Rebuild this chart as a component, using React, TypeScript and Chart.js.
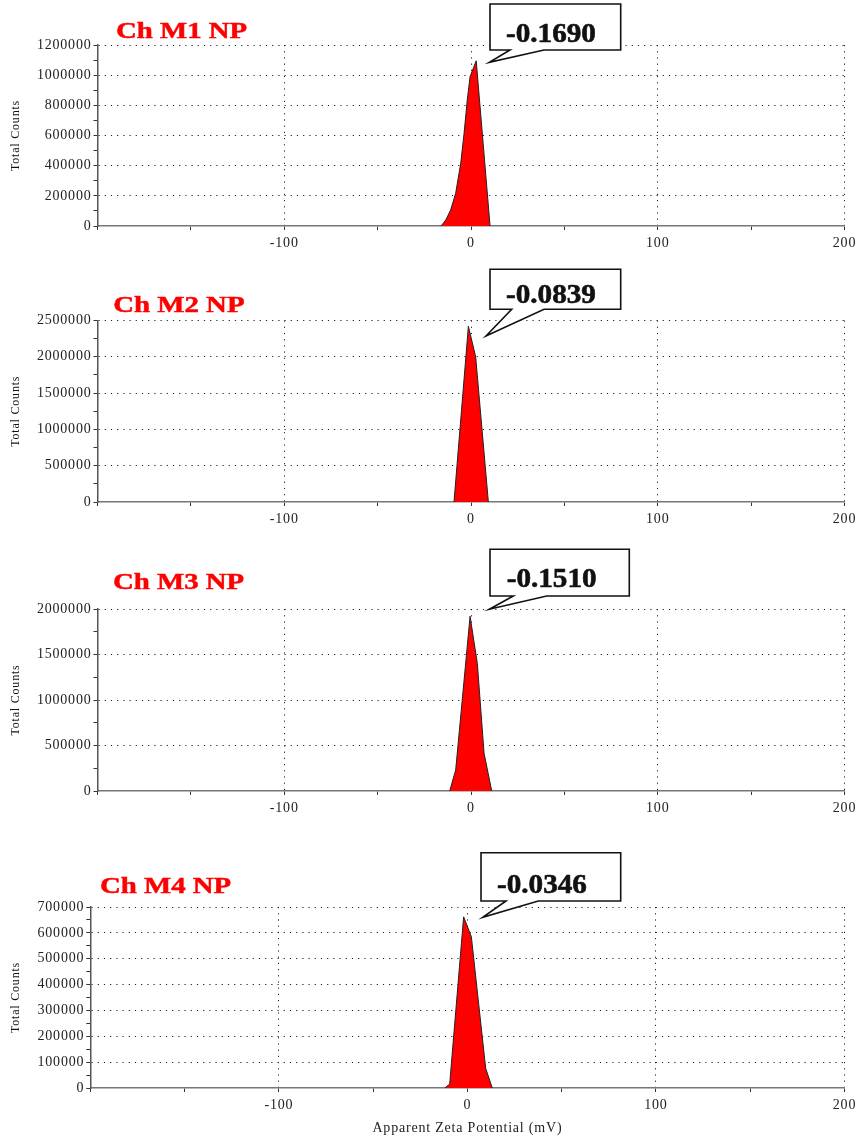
import React, { useEffect, useRef } from "react";
import { Chart, registerables } from "chart.js";

Chart.register(...registerables);

// ---------- data ----------
const panelTitles = ["Ch M1 NP", "Ch M2 NP", "Ch M3 NP", "Ch M4 NP"];
const peakLabels = ["-0.1690", "-0.0839", "-0.1510", "-0.0346"];

const xMin = -200;
const xMax = 200;
const xMajor = 100;
const xMinor = 50;
const xAxisTitle = "Apparent Zeta Potential (mV)";
const yAxisTitle = "Total Counts";

const yMaxes = [1200000, 2500000, 2000000, 700000];
const yMajors = [200000, 500000, 500000, 100000];

// Apparent zeta potential (mV) vs total counts for each sample
const m1Zeta = [-16, -13.5, -10.9, -8.2, -5.5, -3.7, -2.0, -0.5, 2.8, 10.2];
const m1Counts = [0, 40000, 106000, 217000, 416000, 615000, 835000, 990000, 1095000, 0];

const m2Zeta = [-9.1, -1.4, 2.5, 9.3];
const m2Counts = [0, 2420000, 2000000, 0];

const m3Zeta = [-11.4, -8.2, -0.5, 3.4, 7.0, 11.1];
const m3Counts = [0, 231000, 1920000, 1400000, 414000, 0];

const m4Zeta = [-12.0, -9.4, -2.0, 2.1, 9.7, 13.2];
const m4Counts = [0, 15000, 662000, 585000, 76000, 0];

const seriesZeta = [m1Zeta, m2Zeta, m3Zeta, m4Zeta];
const seriesCounts = [m1Counts, m2Counts, m3Counts, m4Counts];

// ---------- layout (page pixel coordinates) ----------
type Layout = {
  top: number;
  height: number;
  plotTop: number;
  plotBottom: number;
  plotLeft: number;
  plotRight: number;
  titleX: number;
  titleY: number;
  box: { l: number; t: number; r: number; b: number; p1: number; p2: number; tipX: number; tipY: number; textX: number; textY: number };
  showXTitle: boolean;
};

const layouts: Layout[] = [
  {
    top: 0, height: 252, plotTop: 45, plotBottom: 226, plotLeft: 97.5, plotRight: 846.7,
    titleX: 116, titleY: 38,
    box: { l: 490, t: 4, r: 620.7, b: 50, p1: 510, p2: 544, tipX: 489.3, tipY: 62.3, textX: 506, textY: 42 },
    showXTitle: false,
  },
  {
    top: 258, height: 272, plotTop: 320.5, plotBottom: 502, plotLeft: 97.5, plotRight: 846.7,
    titleX: 113.3, titleY: 312,
    box: { l: 490, t: 269.3, r: 620.7, b: 309.3, p1: 511.7, p2: 544, tipX: 486, tipY: 336, textX: 506, textY: 303 },
    showXTitle: false,
  },
  {
    top: 540, height: 277, plotTop: 609, plotBottom: 791, plotLeft: 97.5, plotRight: 846.7,
    titleX: 113, titleY: 589,
    box: { l: 490, t: 549.3, r: 629.3, b: 596, p1: 513.3, p2: 546.7, tipX: 489.3, tipY: 609.3, textX: 506.7, textY: 587 },
    showXTitle: false,
  },
  {
    top: 830, height: 311, plotTop: 907, plotBottom: 1088, plotLeft: 90.3, plotRight: 845,
    titleX: 100, titleY: 893.3,
    box: { l: 481, t: 852.7, r: 620.7, b: 901, p1: 506, p2: 538.3, tipX: 482.7, tipY: 917.3, textX: 497, textY: 893 },
    showXTitle: true,
  },
];

const serif = "'Liberation Serif', 'Times New Roman', serif";
const tickFont = { family: serif, size: 14 };
const tickColor = "#222";
const gridColor = "#222";
const axisColor = "#777";

function Panel({ index }: { index: number }) {
  const ref = useRef<HTMLCanvasElement | null>(null);
  const L = layouts[index];

  useEffect(() => {
    const canvas = ref.current;
    if (!canvas) return;
    const yMax = yMaxes[index];
    const yMajor = yMajors[index];
    const points = seriesZeta[index].map((x, k) => ({ x, y: seriesCounts[index][k] }));
    const xAxisHeight = L.height - (L.plotBottom - L.top);

    const decorPlugin = {
      id: "decor" + index,
      beforeDraw(chart: any) {
        (chart.ctx as any).letterSpacing = "0.8px";
      },
      afterDraw(chart: any) {
        const ctx = chart.ctx as CanvasRenderingContext2D;
        const off = L.top;
        ctx.save();
        (ctx as any).letterSpacing = "0px";
        // panel title
        ctx.save();
        ctx.translate(L.titleX, L.titleY - off);
        ctx.scale(1.2, 1);
        ctx.font = "bold 24px " + serif;
        ctx.fillStyle = "#ff0000";
        ctx.strokeStyle = "#ff0000";
        ctx.lineWidth = 0.5;
        ctx.textAlign = "left";
        ctx.textBaseline = "alphabetic";
        ctx.fillText(panelTitles[index], 0, 0);
        ctx.strokeText(panelTitles[index], 0, 0);
        ctx.restore();

        // callout
        const b = L.box;
        ctx.beginPath();
        ctx.moveTo(b.l, b.t - off);
        ctx.lineTo(b.r, b.t - off);
        ctx.lineTo(b.r, b.b - off);
        ctx.lineTo(b.p2, b.b - off);
        ctx.lineTo(b.tipX, b.tipY - off);
        ctx.lineTo(b.p1, b.b - off);
        ctx.lineTo(b.l, b.b - off);
        ctx.closePath();
        ctx.fillStyle = "#ffffff";
        ctx.fill();
        ctx.lineWidth = 1.6;
        ctx.strokeStyle = "#111";
        ctx.lineJoin = "miter";
        ctx.stroke();

        ctx.save();
        ctx.translate(b.textX, b.textY - off);
        ctx.scale(1.08, 1);
        ctx.font = "bold 27px " + serif;
        ctx.fillStyle = "#111";
        ctx.strokeStyle = "#111";
        ctx.lineWidth = 0.6;
        ctx.textAlign = "left";
        ctx.textBaseline = "alphabetic";
        ctx.fillText(peakLabels[index], 0, 0);
        ctx.strokeText(peakLabels[index], 0, 0);
        ctx.restore();
        ctx.restore();
      },
    };

    const chart = new Chart(canvas, {
      type: "line",
      data: {
        datasets: [
          {
            data: points,
            showLine: true,
            fill: "origin",
            backgroundColor: "#ff0000",
            borderColor: "#222",
            borderWidth: 1,
            pointRadius: 0,
            tension: 0,
          },
        ],
      },
      options: {
        responsive: false,
        animation: false,
        devicePixelRatio: 1,
        layout: {
          padding: { top: L.plotTop - L.top, right: 860 - L.plotRight, left: 0, bottom: 0 },
        },
        plugins: {
          legend: { display: false },
          tooltip: { enabled: false },
        },
        scales: {
          x: {
            type: "linear",
            min: xMin,
            max: xMax,
            afterFit: (scale: any) => {
              scale.height = xAxisHeight;
            },
            ticks: {
              stepSize: xMinor,
              autoSkip: false,
              maxRotation: 0,
              padding: 5,
              color: tickColor,
              font: tickFont,
              callback: (v: any) => (Number(v) % xMajor === 0 && Number(v) !== xMin ? String(v) : ""),
            },
            grid: {
              color: (c: any) =>
                c.tick && c.tick.value % xMajor === 0 && c.tick.value !== xMin ? gridColor : "transparent",
              lineWidth: 1,
              tickLength: 4,
              tickColor: "#333",
              tickBorderDash: [],
              drawTicks: true,
            },
            border: { display: true, color: axisColor, width: 1.5, dash: [1.2, 5] },
            title: {
              display: L.showXTitle,
              text: xAxisTitle,
              color: tickColor,
              font: { family: serif, size: 14 },
              padding: { top: 0, bottom: 4 },
            },
          },
          y: {
            type: "linear",
            min: 0,
            max: yMax,
            afterFit: (scale: any) => {
              scale.width = L.plotLeft;
            },
            ticks: {
              stepSize: yMajor / 2,
              autoSkip: false,
              padding: 2,
              color: tickColor,
              font: tickFont,
              callback: (v: any) => (Number(v) % yMajor === 0 ? String(v) : ""),
            },
            grid: {
              color: (c: any) =>
                c.tick && c.tick.value % yMajor === 0 && c.tick.value !== 0 ? gridColor : "transparent",
              lineWidth: 1,
              tickLength: 4,
              tickColor: "#333",
              tickBorderDash: [],
              drawTicks: true,
            },
            border: { display: true, color: "#555", width: 1.5, dash: [1.2, 5] },
            title: {
              display: true,
              text: yAxisTitle,
              color: "#111",
              font: { family: serif, size: 12 },
              padding: { top: 9, bottom: 0 },
            },
          },
        },
      },
      plugins: [decorPlugin],
    } as any);

    return () => chart.destroy();
  }, []);

  return (
    <canvas
      ref={ref}
      width={860}
      height={L.height}
      style={{ position: "absolute", left: 0, top: L.top, width: 860, height: L.height, display: "block" }}
    />
  );
}

export default function App() {
  return (
    <div style={{ position: "absolute", left: 0, top: 0, width: 860, height: 1141, background: "#fff" }}>
      {layouts.map((_, i) => (
        <Panel key={i} index={i} />
      ))}
    </div>
  );
}
